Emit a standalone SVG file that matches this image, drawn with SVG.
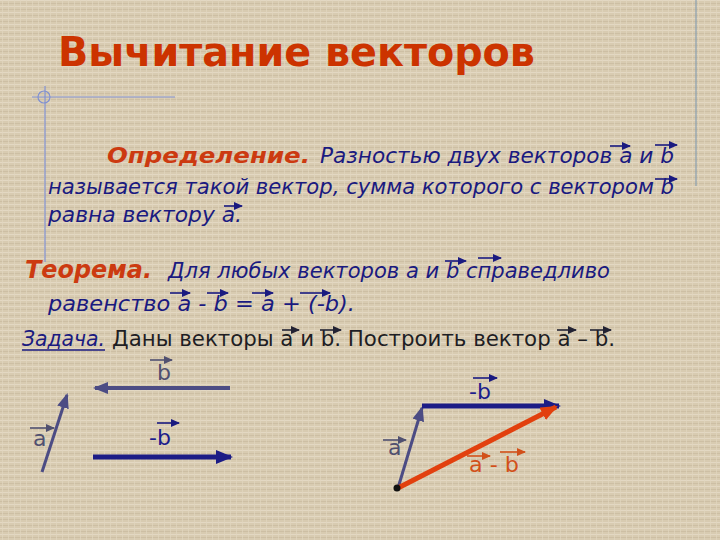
<svg xmlns="http://www.w3.org/2000/svg" width="720" height="540" viewBox="0 0 720 540">
<defs>
<pattern id="tex" width="6" height="6" patternUnits="userSpaceOnUse">
<rect width="6" height="6" fill="#d8cbb1"/>
<rect x="0" y="0" width="6" height="1" fill="#e3d8c3"/>
<rect x="0" y="3" width="6" height="1" fill="#cdbfa4"/>
<rect x="2" y="0" width="1" height="6" fill="#e1d6c0" opacity="0.7"/>
</pattern>
<marker id="ovN" markerUnits="userSpaceOnUse" markerWidth="10" markerHeight="8" refX="8" refY="4" orient="auto"><path d="M0,0 L9,4 L0,8 Z" fill="#1a1a80"/></marker>
<marker id="ovK" markerUnits="userSpaceOnUse" markerWidth="10" markerHeight="8" refX="8" refY="4" orient="auto"><path d="M0,0 L9,4 L0,8 Z" fill="#222233"/></marker>
<marker id="ovG" markerUnits="userSpaceOnUse" markerWidth="10" markerHeight="8" refX="8" refY="4" orient="auto"><path d="M0,0 L9,4 L0,8 Z" fill="#505070"/></marker>
<marker id="ovO" markerUnits="userSpaceOnUse" markerWidth="10" markerHeight="8" refX="8" refY="4" orient="auto"><path d="M0,0 L9,4 L0,8 Z" fill="#d2501a"/></marker>
<marker id="hS" markerUnits="userSpaceOnUse" markerWidth="16" markerHeight="12" refX="13" refY="6" orient="auto"><path d="M0,0 L15,6 L0,12 Z" fill="#4c4c84"/></marker>
<marker id="hN" markerUnits="userSpaceOnUse" markerWidth="18" markerHeight="14" refX="15" refY="7" orient="auto"><path d="M0,0 L17,7 L0,14 Z" fill="#1c1c86"/></marker>
<marker id="hO" markerUnits="userSpaceOnUse" markerWidth="18" markerHeight="14" refX="15" refY="7" orient="auto"><path d="M0,0 L17,7 L0,14 Z" fill="#e2400e"/></marker>
</defs>
<style>
.t{font-family:"DejaVu Sans","Liberation Sans",sans-serif}
.ttl{font-size:40px;font-weight:bold;fill:#cc3300}
.hd{font-size:22px;font-weight:bold;font-style:italic;fill:#cc3a10}
.bl{font-size:21px;font-style:italic;fill:#1a1a80}
.zd{font-size:22px;fill:#1e1e24}
.lg{font-size:22px;fill:#505070}
.lb{font-size:22px;fill:#1c1c8c}
.lo{font-size:22px;fill:#d2501a}
.ovN{stroke:#1a1a80;stroke-width:1.6;marker-end:url(#ovN)}
.ovK{stroke:#222233;stroke-width:1.6;marker-end:url(#ovK)}
.ovG{stroke:#505070;stroke-width:1.6;marker-end:url(#ovG)}
.ovO{stroke:#d2501a;stroke-width:1.6;marker-end:url(#ovO)}
.deco{stroke:#8090d0;stroke-width:1.2;fill:none}
</style>
<rect width="720" height="540" fill="url(#tex)"/>
<g id="decor">
<line class="deco" x1="32" y1="97" x2="175" y2="97"/>
<line class="deco" x1="45" y1="86" x2="45" y2="262"/>
<circle class="deco" cx="44" cy="97" r="6"/>
<line x1="696" y1="0" x2="696" y2="186" stroke="#8aa0b0" stroke-width="1.2"/>
</g>
<g id="title">
<text class="t ttl" x="58" y="66" textLength="477" lengthAdjust="spacingAndGlyphs">Вычитание векторов</text>
</g>
<g id="definition">
<text class="t hd" x="107" y="163" textLength="203" lengthAdjust="spacingAndGlyphs">Определение.</text>
<text class="t bl" x="320" y="163" textLength="354" lengthAdjust="spacingAndGlyphs">Разностью двух векторов a и b</text>
<text class="t bl" x="48" y="194" textLength="626" lengthAdjust="spacingAndGlyphs">называется такой вектор, сумма которого с вектором b</text>
<text class="t bl" x="48" y="222" textLength="194" lengthAdjust="spacingAndGlyphs">равна вектору a.</text>
<line class="ovN" x1="610" y1="146" x2="630" y2="146"/>
<line class="ovN" x1="655" y1="145" x2="677" y2="145"/>
<line class="ovN" x1="655" y1="179" x2="677" y2="179"/>
<line class="ovN" x1="224" y1="206" x2="242" y2="206"/>
</g>
<g id="theorem">
<text class="t hd" x="25" y="278" style="font-size:24px" textLength="127" lengthAdjust="spacingAndGlyphs">Теорема.</text>
<text class="t bl" x="168" y="278" textLength="442" lengthAdjust="spacingAndGlyphs">Для любых векторов a и b справедливо</text>
<text class="t bl" x="48" y="311" textLength="307" lengthAdjust="spacingAndGlyphs">равенство a - b = a + (-b).</text>
<line class="ovN" x1="445" y1="261" x2="466" y2="261"/>
<line class="ovN" x1="478" y1="258" x2="501" y2="258"/>
<line class="ovN" x1="170" y1="293" x2="190" y2="293"/>
<line class="ovN" x1="207" y1="293" x2="228" y2="293"/>
<line class="ovN" x1="252" y1="293" x2="273" y2="293"/>
<line class="ovN" x1="300" y1="293" x2="330" y2="293"/>
</g>
<g id="task">
<text class="t bl" x="22" y="346" textLength="83" lengthAdjust="spacingAndGlyphs">Задача.</text>
<line x1="22" y1="350" x2="105" y2="350" stroke="#1a1a80" stroke-width="1.5"/>
<text class="t zd" x="112" y="346" textLength="503" lengthAdjust="spacingAndGlyphs">Даны векторы a и b. Построить вектор a – b.</text>
<line class="ovK" x1="282" y1="330" x2="299" y2="330"/>
<line class="ovK" x1="320" y1="330" x2="341" y2="330"/>
<line class="ovK" x1="557" y1="330" x2="576" y2="330"/>
<line class="ovK" x1="590" y1="330" x2="611" y2="330"/>
</g>
<g id="connectors">
<line x1="230" y1="388" x2="95" y2="388" stroke="#4c4c84" stroke-width="4" marker-end="url(#hS)"/>
<line x1="42" y1="472" x2="67" y2="395" stroke="#4c4c84" stroke-width="3" marker-end="url(#hS)"/>
<line x1="93" y1="457" x2="231" y2="457" stroke="#1c1c86" stroke-width="5" marker-end="url(#hN)"/>
<line x1="398" y1="488" x2="422" y2="408" stroke="#4c4c84" stroke-width="3" marker-end="url(#hS)"/>
<line x1="422" y1="406" x2="559" y2="406" stroke="#1c1c86" stroke-width="5" marker-end="url(#hN)"/>
<line x1="398" y1="488" x2="556" y2="407" stroke="#e2400e" stroke-width="5" marker-end="url(#hO)"/>
<circle cx="397" cy="488" r="3.5" fill="#111"/>
</g>
<g id="label-b">
<text class="t lg" x="157" y="380">b</text>
<line class="ovG" x1="150" y1="360" x2="172" y2="360"/>
</g>
<g id="label-a-left">
<text class="t lg" x="33" y="446">a</text>
<line class="ovG" x1="30" y1="428" x2="54" y2="428"/>
</g>
<g id="label-minus-b-left">
<text class="t lb" x="149" y="445">-b</text>
<line class="ovN" x1="157" y1="423" x2="179" y2="423"/>
</g>
<g id="label-minus-b-right">
<text class="t lb" x="469" y="399">-b</text>
<line class="ovN" x1="473" y1="378" x2="497" y2="378"/>
</g>
<g id="label-a-right">
<text class="t lg" x="388" y="455">a</text>
<line class="ovG" x1="383" y1="440" x2="406" y2="440"/>
</g>
<g id="label-a-minus-b">
<text class="t lo" x="469" y="472" textLength="50" lengthAdjust="spacingAndGlyphs">a - b</text>
<line class="ovO" x1="467" y1="456" x2="490" y2="456"/>
<line class="ovO" x1="500" y1="452" x2="525" y2="452"/>
</g>
</svg>
